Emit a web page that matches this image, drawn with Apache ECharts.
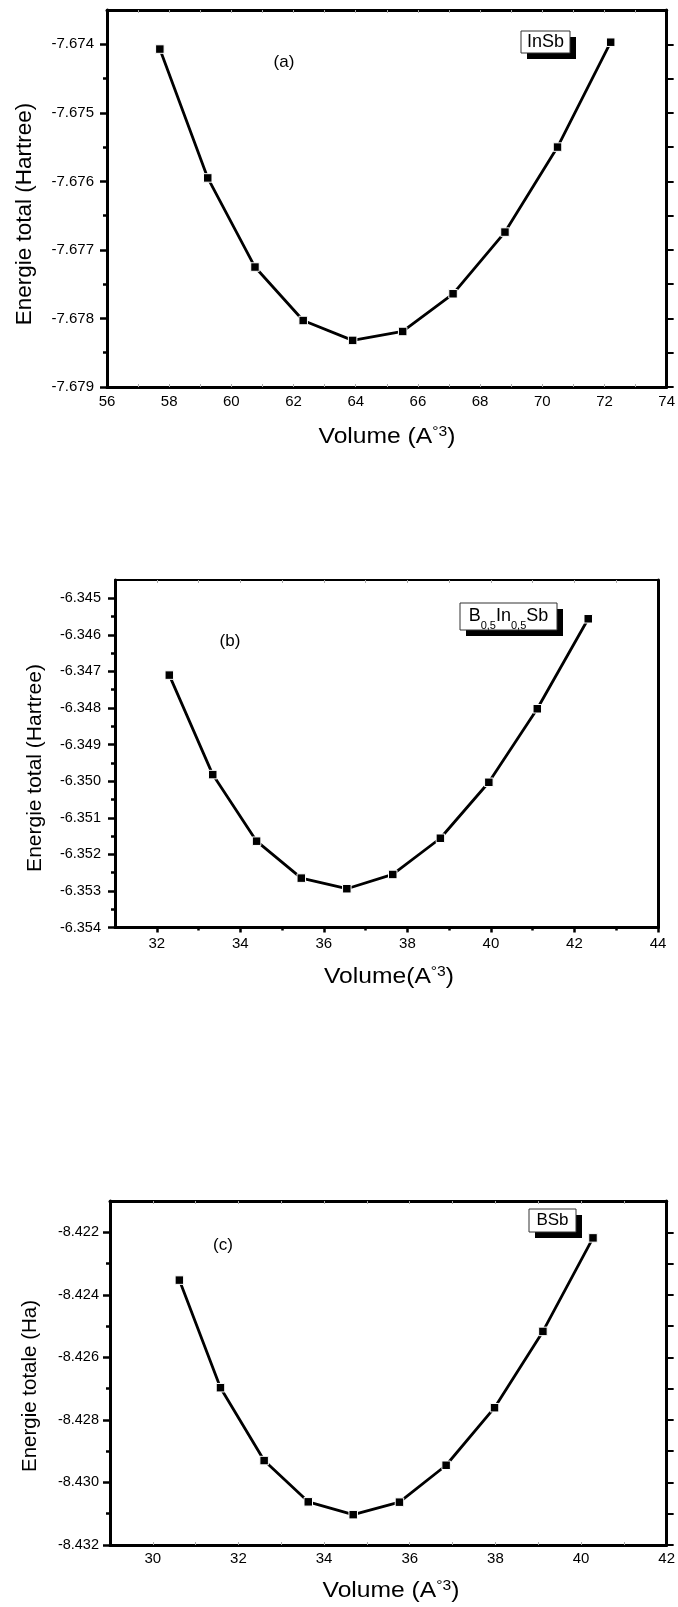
<!DOCTYPE html>
<html><head><meta charset="utf-8">
<script src="https://cdn.jsdelivr.net/npm/echarts@6/dist/echarts.min.js"></script>
<style>html,body{margin:0;padding:0;background:#fff}#c{width:678px;height:1607px}</style>
</head><body><div id="c"></div>
<script>
// ---------- data ----------
const volA = [57.70, 59.24, 60.76, 62.31, 63.90, 65.51, 67.13, 68.80, 70.49, 72.20];
const energyA = [-7.67407, -7.67595, -7.67725, -7.67803, -7.67832, -7.67819, -7.67764, -7.67674, -7.67550, -7.67397];
const volB = [32.30, 33.34, 34.39, 35.46, 36.55, 37.65, 38.79, 39.95, 41.11, 42.33];
const energyB = [-6.34710, -6.34982, -6.35164, -6.35265, -6.35294, -6.35255, -6.35156, -6.35003, -6.34802, -6.34556];
const volC = [30.62, 31.58, 32.60, 33.63, 34.68, 35.76, 36.85, 37.98, 39.11, 40.28];
const energyC = [-8.42353, -8.42697, -8.42930, -8.43062, -8.43103, -8.43063, -8.42945, -8.42761, -8.42517, -8.42218];

const xLabelsA = [56, 58, 60, 62, 64, 66, 68, 70, 72, 74];
const xUnitsA = [57, 58, 59, 60, 61, 62, 63, 64, 65, 66, 67, 68, 69, 70, 71, 72, 73];
const yLabelsA = [-7.679, -7.678, -7.677, -7.676, -7.675, -7.674];
const yMinorA = [-7.6785, -7.6775, -7.6765, -7.6755, -7.6745];

const xLabelsB = [32, 34, 36, 38, 40, 42, 44];
const xMinorB = [33, 35, 37, 39, 41, 43];
const xUnitsB = [32, 33, 34, 35, 36, 37, 38, 39, 40, 41, 42, 43];
const yLabelsB = [-6.354, -6.353, -6.352, -6.351, -6.350, -6.349, -6.348, -6.347, -6.346, -6.345];
const yMinorB = [-6.3535, -6.3525, -6.3515, -6.3505, -6.3495, -6.3485, -6.3475, -6.3465, -6.3455];

const xLabelsC = [30, 32, 34, 36, 38, 40, 42];
const xUnitsC = [30, 31, 32, 33, 34, 35, 36, 37, 38, 39, 40, 41];
const yLabelsC = [-8.432, -8.430, -8.428, -8.426, -8.424, -8.422];
const yMinorC = [-8.431, -8.429, -8.427, -8.425, -8.423];

// ---------- chart ----------
const FONT = 'Arial, "Liberation Sans", sans-serif';
const option = { animation: false, backgroundColor: '#fff', grid: [], xAxis: [], yAxis: [], series: [], graphic: [] };

function addPanel(p) {
  const gi = option.grid.length;
  option.grid.push({ left: p.left, top: p.top, width: p.width, height: p.height, containLabel: false });
  const xi = option.xAxis.length, yi = option.yAxis.length;
  const base = { type: 'value', gridIndex: gi, splitLine: { show: false } };
  const xr = { min: p.xMin, max: p.xMax }, yr = { min: p.yMin, max: p.yMax };
  option.xAxis.push(Object.assign({}, base, xr, {
    position: 'bottom',
    axisLine: { show: true, onZero: false, lineStyle: { color: '#000', width: p.lw.bottom } },
    axisTick: p.xMajor.ticks ? { show: true, customValues: p.xMajor.ticks, inside: p.xMajor.inside, length: p.xMajor.length,
      lineStyle: { color: p.xMajor.color, width: p.xMajor.width } } : { show: false },
    axisLabel: { show: true, customValues: p.xLabels, margin: p.xLabelMargin, fontSize: 15, color: '#000', fontFamily: FONT,
      formatter: v => String(Math.round(v)) }
  }));
  option.xAxis.push(Object.assign({}, base, xr, {
    position: 'bottom',
    axisLine: { show: false, onZero: false },
    axisTick: p.xMinor ? { show: true, customValues: p.xMinor.ticks, inside: p.xMinor.inside, length: p.xMinor.length,
      lineStyle: { color: p.xMinor.color, width: p.xMinor.width } } : { show: false },
    axisLabel: { show: false }
  }));
  option.xAxis.push(Object.assign({}, base, xr, {
    position: 'top',
    axisLine: { show: true, onZero: false, lineStyle: { color: '#000', width: p.lw.top } },
    axisTick: { show: true, customValues: p.topTicks, inside: true, length: 3, lineStyle: { color: '#aaa', width: 1 } },
    axisLabel: { show: false }
  }));
  option.yAxis.push(Object.assign({}, base, yr, {
    position: 'left',
    axisLine: { show: true, onZero: false, lineStyle: { color: '#000', width: p.lw.left } },
    axisTick: { show: true, customValues: p.yLabels, inside: false, length: 7, lineStyle: { color: '#000', width: 2.5 } },
    axisLabel: { show: true, customValues: p.yLabels, margin: p.yLabelMargin, fontSize: p.yFont, color: '#000', fontFamily: FONT,
      formatter: v => v.toFixed(3) }
  }));
  option.yAxis.push(Object.assign({}, base, yr, {
    position: 'left',
    axisLine: { show: false, onZero: false },
    axisTick: { show: true, customValues: p.yMinor, inside: false, length: 4, lineStyle: { color: '#000', width: 2.5 } },
    axisLabel: { show: false }
  }));
  option.yAxis.push(Object.assign({}, base, yr, {
    position: 'right',
    axisLine: { show: true, onZero: false, lineStyle: { color: '#000', width: p.lw.right } },
    axisTick: p.rightTicks ? { show: true, customValues: p.rightTicks, inside: false, length: 7, lineStyle: { color: '#000', width: 2 } } : { show: false },
    axisLabel: { show: false }
  }));
  option.series.push({
    type: 'line', xAxisIndex: xi, yAxisIndex: yi,
    data: p.x.map((v, i) => [v, p.y[i]]),
    symbol: 'rect', symbolSize: 8.5,
    lineStyle: { color: '#000', width: 2.8 },
    itemStyle: { color: '#000', borderColor: '#fff', borderWidth: 1 },
    z: 5
  });
}

addPanel({
  left: 107, top: 10, width: 560, height: 377,
  xMin: 56, xMax: 74, yMin: -7.679, yMax: -7.6735,
  x: volA, y: energyA,
  xLabels: xLabelsA, xLabelMargin: 7,
  xMajor: { ticks: xUnitsA, inside: true, length: 3, color: '#aaa', width: 1 },
  xMinor: null,
  topTicks: xUnitsA,
  yLabels: yLabelsA, yMinor: yMinorA, yLabelMargin: 13, yFont: 15,
  rightTicks: yLabelsA.concat(yMinorA),
  lw: { left: 3, bottom: 3, right: 3, top: 3 }
});
addPanel({
  left: 115, top: 580, width: 543, height: 347.5,
  xMin: 31, xMax: 44, yMin: -6.354, yMax: -6.3445,
  x: volB, y: energyB,
  xLabels: xLabelsB, xLabelMargin: 9,
  xMajor: { ticks: xLabelsB, inside: false, length: 5, color: '#000', width: 2.5 },
  xMinor: { ticks: xMinorB, inside: false, length: 3, color: '#000', width: 2.5 },
  topTicks: xUnitsB,
  yLabels: yLabelsB, yMinor: yMinorB, yLabelMargin: 14, yFont: 14.5,
  rightTicks: null,
  lw: { left: 3, bottom: 3, right: 3, top: 2 }
});
addPanel({
  left: 110, top: 1201, width: 557, height: 344,
  xMin: 29, xMax: 42, yMin: -8.432, yMax: -8.421,
  x: volC, y: energyC,
  xLabels: xLabelsC, xLabelMargin: 6,
  xMajor: { ticks: xUnitsC, inside: true, length: 3, color: '#aaa', width: 1 },
  xMinor: null,
  topTicks: xUnitsC,
  yLabels: yLabelsC, yMinor: yMinorC, yLabelMargin: 11, yFont: 14.5,
  rightTicks: yLabelsC.concat(yMinorC),
  lw: { left: 3, bottom: 3, right: 3, top: 3 }
});

// ---------- texts ----------
function yTitle(text, x, y, size) {
  return { type: 'text', x: x, y: y, rotation: Math.PI / 2, z: 10,
    style: { text: text, x: 0, y: 0, align: 'center', verticalAlign: 'middle', textAlign: 'center', textVerticalAlign: 'middle',
      font: size + 'px ' + FONT, fill: '#000' } };
}
function xTitle(main, x, y) {
  return { type: 'text', x: x, y: y, scaleX: 1.12, z: 10,
    style: { text: '{m|' + main + '}{s|°3}{m|)}', x: 0, y: 0, align: 'center', verticalAlign: 'middle',
      textAlign: 'center', textVerticalAlign: 'middle', fill: '#000',
      rich: { m: { fontSize: 22, fontFamily: FONT, lineHeight: 24 }, s: { fontSize: 14, fontFamily: FONT, verticalAlign: 'top', lineHeight: 14 } } } };
}
function plain(text, x, y, size) {
  return { type: 'text', x: x, y: y, z: 10,
    style: { text: text, x: 0, y: 0, align: 'center', verticalAlign: 'middle', textAlign: 'center', textVerticalAlign: 'middle',
      font: size + 'px ' + FONT, fill: '#000' } };
}
function box(x, y, w, h) {
  return [
    { type: 'rect', z: 8, shape: { x: x + 6, y: y + 6, width: w, height: h }, style: { fill: '#000' } },
    { type: 'rect', z: 9, shape: { x: x, y: y, width: w, height: h }, style: { fill: '#fff', stroke: '#333', lineWidth: 1 } }
  ];
}

option.graphic = [].concat(
  [yTitle('Energie total (Hartree)', 25, 214, 22.5), xTitle('Volume (A', 387, 437), plain('(a)', 284, 62, 17)],
  box(521, 31, 49, 22), [plain('InSb', 545.5, 42, 18)],
  [yTitle('Energie total (Hartree)', 35, 768, 21), xTitle('Volume(A', 389, 977), plain('(b)', 230, 641, 17)],
  box(460, 603, 97, 27),
  [{ type: 'text', x: 508.5, y: 616.5, z: 10,
     style: { text: '{m|B}{d|0,5}{m|In}{d|0,5}{m|Sb}', x: 0, y: 0, align: 'center', verticalAlign: 'middle',
       textAlign: 'center', textVerticalAlign: 'middle', fill: '#000',
       rich: { m: { fontSize: 18, fontFamily: FONT, lineHeight: 18, verticalAlign: 'top' },
               d: { fontSize: 11, fontFamily: FONT, lineHeight: 11, verticalAlign: 'top', padding: [13, 0, 0, 0] } } } }],
  [yTitle('Energie totale (Ha)', 30, 1386, 20.5), xTitle('Volume (A', 391, 1591), plain('(c)', 223, 1245, 17)],
  box(529, 1209, 47, 23), [plain('BSb', 552.5, 1220.5, 17)]
);

const chart = echarts.init(document.getElementById('c'), null, { renderer: 'canvas' });
chart.setOption(option);
</script>
</body></html>
